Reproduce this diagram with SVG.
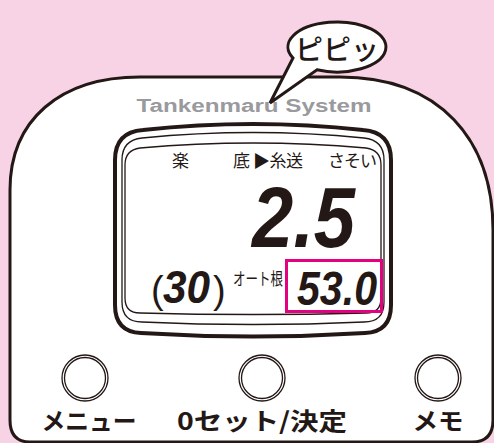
<svg xmlns="http://www.w3.org/2000/svg" width="494" height="443" viewBox="0 0 494 443">
<style>
.jp{font-family:"Noto Sans CJK JP","Noto Sans",sans-serif}
.lcd{font-family:"Noto Sans CJK JP",sans-serif;font-size:17px;fill:#231815}
.seg{font-family:"Liberation Sans",Arial,sans-serif;font-weight:bold;font-style:italic;fill:#231815}
.btn{fill:#fff;stroke:#231815;stroke-width:1.3}
.lbl{font-family:"Noto Sans CJK JP",sans-serif;font-weight:bold;font-size:24px;fill:#231815;text-anchor:middle}
.thin{fill:none;stroke:#231815;stroke-width:1.3}
</style>
<rect width="494" height="443" fill="#f8d3e5"/>
<g id="body">
<path d="M 10,420 L 10,190 C 10,120 60,77 140,77 L 340,77 C 440,77 493,140 493,230 L 493,420 Q 493,442 472,442 L 30,442 Q 10,442 10,420 Z" fill="#fff" stroke="#231815" stroke-width="3"/>
<text x="254" y="112" text-anchor="middle" textLength="235" lengthAdjust="spacingAndGlyphs" font-family="'Liberation Sans',Arial,sans-serif" font-weight="bold" font-size="18" fill="#9a9a9e">Tankenmaru System</text>
</g>
<g id="bubble">
<path d="M 293,58 A 49,25 0 1,1 317,69.8 L 270,103 Z" fill="#fff" stroke="#231815" stroke-width="3" stroke-linejoin="miter"/>
<text x="337" y="60" text-anchor="middle" class="jp" font-size="28" font-weight="500" fill="#231815">ピピッ</text>
</g>
<g id="lcd">
<path d="M 115,305 L 115,160 Q 115,132 143,130 Q 253,118 363,130 Q 391,132 391,160 L 391,305 Q 391,332 365,333 Q 253,340 141,333 Q 115,332 115,305 Z" fill="#fff" stroke="#231815" stroke-width="4"/>
<path class="thin" d="M 122,302 L 122,160 Q 122,140 142,138 Q 253,127 364,138 Q 384,140 384,160 L 384,302 Q 384,322 364,322 Q 253,327 142,322 Q 122,322 122,302 Z"/>
<path class="thin" d="M 125,298 L 125,165 Q 125,150 140,148 Q 253,138 366,148 Q 381,150 381,165 L 381,298 Q 381,313 366,313 Q 253,316 140,313 Q 125,313 125,298 Z"/>
<text class="lcd" x="172" y="167" font-size="18">楽</text>
<text class="lcd" x="233" y="167" textLength="70" lengthAdjust="spacing">底 ▶糸送</text>
<text class="lcd" x="328" y="167" textLength="49" lengthAdjust="spacing">さそい</text>
<text class="seg" x="252" y="247" font-size="85" textLength="103" lengthAdjust="spacingAndGlyphs">2.5</text>
<text x="151" y="303" font-family="'Liberation Sans',Arial,sans-serif" font-size="38" fill="#231815">(</text>
<text class="seg" x="163" y="303" font-size="46" textLength="47" lengthAdjust="spacingAndGlyphs">30</text>
<text x="213" y="303" font-family="'Liberation Sans',Arial,sans-serif" font-size="38" fill="#231815">)</text>
<text class="lcd" x="233" y="285" font-size="14" textLength="50" lengthAdjust="spacingAndGlyphs">オート根</text>
<rect x="286.5" y="260.5" width="95" height="51" fill="none" stroke="#e4007f" stroke-width="3"/>
<text class="seg" x="297" y="305" font-size="49" textLength="80" lengthAdjust="spacingAndGlyphs">53.0</text>
</g>
<g id="btn-menu">
<circle class="btn" cx="85" cy="378" r="23"/>
<circle class="btn" cx="85" cy="378" r="20.5"/>
<text class="lbl" x="89" y="430" textLength="95" lengthAdjust="spacingAndGlyphs">メニュー</text>
</g>
<g id="btn-zero">
<circle class="btn" cx="262" cy="378" r="23"/>
<circle class="btn" cx="262" cy="378" r="20.5"/>
<text class="lbl" x="262" y="430" textLength="170" lengthAdjust="spacingAndGlyphs">0セット/決定</text>
</g>
<g id="btn-memo">
<circle class="btn" cx="438" cy="378" r="23"/>
<circle class="btn" cx="438" cy="378" r="20.5"/>
<text class="lbl" x="438" y="430" textLength="51" lengthAdjust="spacingAndGlyphs">メモ</text>
</g>
</svg>
